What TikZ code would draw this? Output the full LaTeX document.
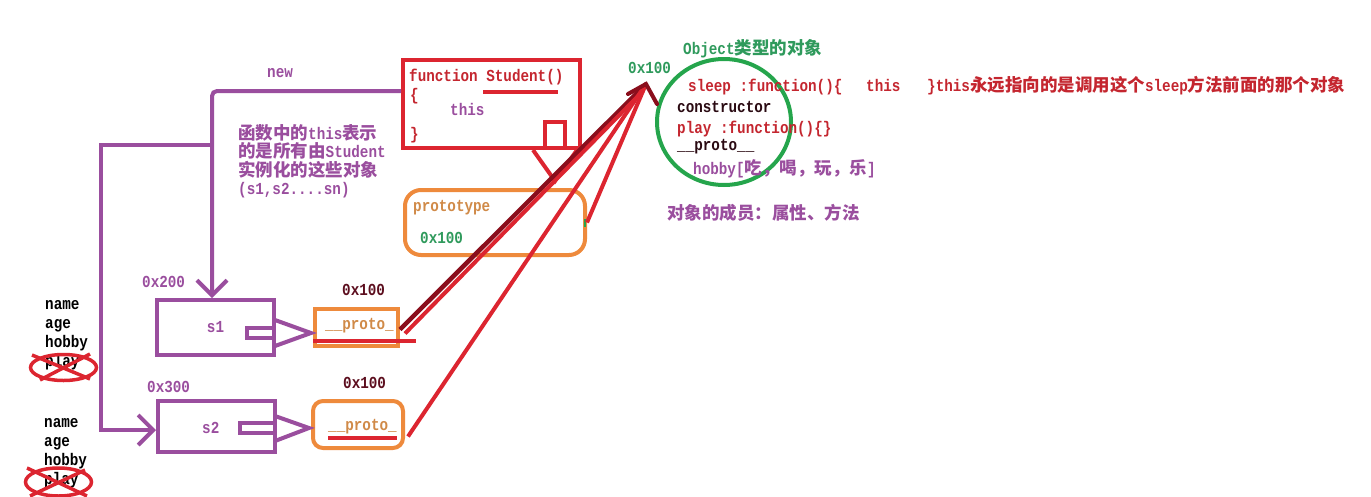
\documentclass[tikz,border=0pt]{standalone}
\usepackage{fontspec}
\setmainfont{Liberation Mono}[FakeStretch=0.85]
\newfontfamily\cjk{Noto Sans CJK SC}
\usetikzlibrary{arrows.meta,positioning,calc,shapes.geometric}
\definecolor{plum}{HTML}{9A4E9E}
\definecolor{brick}{HTML}{DC2530}
\definecolor{rtext}{HTML}{C4262F}
\definecolor{wine}{HTML}{8A0E1C}
\definecolor{amber}{HTML}{EE8A3C}
\definecolor{clay}{HTML}{D08A48}
\definecolor{fern}{HTML}{25A54C}
\definecolor{leaf}{HTML}{2F9A5C}
\definecolor{berry}{HTML}{5C0E1E}
\definecolor{soot}{HTML}{2A0A12}
\newcommand\zh[1]{{\cjk\fontsize{17.5}{20}\selectfont #1}}
\newcommand\txtfont{\fontsize{16.8}{19}\selectfont\bfseries}
\tikzset{
  txt/.style={anchor=base west, inner sep=0pt, font=\txtfont},
  box/.style={inner sep=0pt, line width=4pt},
  pline/.style={draw=plum, line width=4pt},
  rline/.style={draw=brick, line width=4pt},
  barb/.style={-{Straight Barb[length=15pt,width=30pt]}}
}

\begin{document}
\begin{tikzpicture}[x=1pt,y=-1pt]
  \useasboundingbox (0,0) rectangle (1371,496);

  % boxes
  \node[box, draw=brick, minimum width=177pt, minimum height=88pt] (student) at (491.5,104) {};
  \node[box, draw=amber, rounded corners=16pt, minimum width=180pt, minimum height=65pt] (protobox) at (495,222.5) {};
  \node[box, draw=plum, minimum width=117pt, minimum height=55pt, text=plum, font=\txtfont] (s1) at (215.5,327.5) {s1};
  \node[box, draw=plum, minimum width=117pt, minimum height=51pt] (s2) at (216.5,426.5) {};
  \node[txt, text=plum] (s2txt) at (202,433) {s2};
  \node[box, draw=amber, minimum width=83pt, minimum height=37pt] (p1) at (356.5,327.5) {};
  \node[box, draw=amber, rounded corners=10pt, minimum width=90pt, minimum height=47pt] (p2) at (358,424.5) {};
  \node[box, draw=fern, ellipse, minimum width=134pt, minimum height=126pt] (obj) at (724,122) {};

  % block arrows
  \draw[rline] (545,150) -- (545,122) -- (565,122) -- (565,150);
  \draw[rline] (533,150) -- (555,181) -- (577,150);
  \draw[pline] (275,328) -- (247,328) -- (247,338) -- (275,338);
  \draw[pline] (275,320) -- (311,333) -- (275,346);
  \draw[pline] (275,423) -- (240,423) -- (240,433) -- (275,433);
  \draw[pline] (275,416) -- (309,428) -- (275,441);

  % function text
  \node[txt, text=rtext] (fn) at (409,81) {function Student()};
  \draw[rline] (483,92) -- (558,92);
  \node[txt, text=rtext] (lb) at (410,100) {\{};
  \node[txt, text=plum] (fthis) at (450,115) {this};
  \node[txt, text=rtext] (rb) at (410,139) {\}};

  % note on this
  \node[txt, text=plum] (note1) at (238,139) {\zh{函数中的}this\zh{表示}};
  \node[txt, text=plum] (note2) at (238,157.5) {\zh{的是所有由}Student};
  \node[txt, text=plum] (note3) at (238,176) {\zh{实例化的这些对象}};
  \node[txt, text=plum] (note4) at (238,194.5) {(s1,s2....sn)};
  \node[txt, text=plum] (new) at (267,77) {new};

  % prototype
  \node[txt, text=clay] (ptxt) at (413,211) {prototype};
  \node[txt, text=leaf] (paddr) at (420,243) {0x100};
  \draw[fern, line width=2pt] (585,219) -- (585,227);

  % instances
  \node[txt, text=plum] (a1) at (142,287) {0x200};
  \node[txt, text=plum] (a2) at (147,392) {0x300};
  \node[txt, text=berry] (b1) at (342,295) {0x100};
  \node[txt, text=berry] (b2) at (343,388) {0x100};
  \node[txt, text=clay] (pr1) at (325,329) {\_\_proto\_};
  \node[txt, text=clay] (pr2) at (328,430) {\_\_proto\_};
  \draw[rline] (313,341) -- (416,341);
  \draw[rline] (328,438) -- (397,438);

  % member lists
  \foreach \w [count=\i] in {name,age,hobby,play}
    \node[txt] (lista\i) at (45,290+19*\i) {\w};
  \foreach \w [count=\i] in {name,age,hobby,play}
    \node[txt] (listb\i) at (44,408+19*\i) {\w};
  \draw[brick, line width=3.5pt] (63.5,367.5) ellipse (33 and 13);
  \draw[brick, line width=3.5pt] (32,355) -- (90,379) (90,354) -- (40,380);
  \draw[brick, line width=3.5pt] (58.5,482) ellipse (33 and 14);
  \draw[brick, line width=3.5pt] (27,468) -- (87,496) (85,470) -- (30,496);

  % object
  \node[txt, text=leaf] (otitle) at (683,54) {Object\zh{类型的对象}};
  \node[txt, text=leaf] (oaddr) at (628,73) {0x100};
  \node[txt, text=rtext] (sleep) at (688,91) {sleep :function()\{};
  \node[txt, text=rtext] (sthis) at (866,91) {this};
  \node[txt, text=rtext] (snote) at (927,91) {\}this\zh{永远指向的是调用这个}sleep\zh{方法前面的那个对象}};
  \node[txt, text=soot] (ctor) at (677,112) {constructor};
  \node[txt, text=rtext] (play) at (677,133) {play :function()\{\}};
  \node[txt, text=soot] (oproto) at (677,150) {\_\_proto\_\_};
  \node[txt, text=plum] (hobby) at (693,174) {hobby[\zh{吃，喝，玩，乐}]};
  \node[txt, text=plum] (members) at (667,219) {\zh{对象的成员：属性、方法}};

  % purple connectors
  \coordinate (split) at (212,145);
  \draw[pline, barb, rounded corners=5pt] ([yshift=13pt]student.west) -| ([xshift=-3.5pt]s1.north);
  \draw[pline, barb] (split) -- (101,145) |- ([yshift=-3.5pt]s2.west);

  % red connectors
  \coordinate (tip) at (646,84);
  \draw[wine, line width=4.5pt] ([yshift=-2pt]p1.east) -- (tip);
  \draw[rline] ([xshift=5pt,yshift=-6pt]p1.east) -- ($(tip)+(-3,7)$);
  \draw[rline] ([xshift=3pt,yshift=-12pt]p2.east) -- (tip);
  \draw[rline] (protobox.east) -- (tip);
  \draw[wine, line width=4pt, line cap=round] ($(tip)+(-18,10)$) -- (tip) -- ($(tip)+(11,20)$);
\end{tikzpicture}
\end{document}
